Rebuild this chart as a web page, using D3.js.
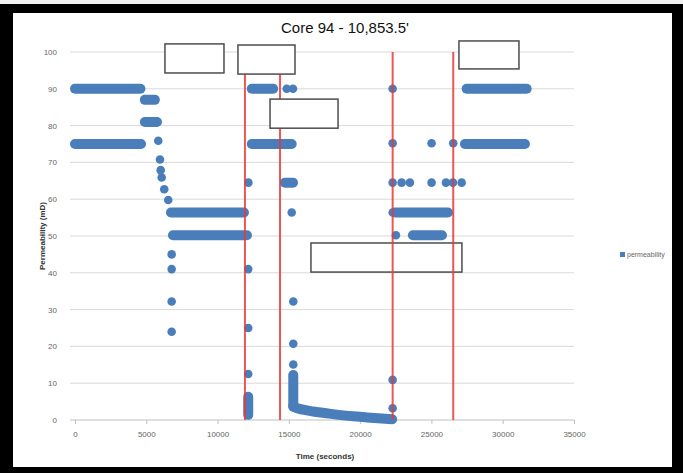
<!DOCTYPE html>
<html>
<head>
<meta charset="utf-8">
<script src="https://cdn.jsdelivr.net/npm/d3@7"></script>
<style>
  body { margin: 0; background: #fff; }
  svg { display: block; }
  text { font-family: "Liberation Sans Narrow", "Liberation Sans", Arial, sans-serif; }
</style>
</head>
<body>
<svg id="chart"></svg>
<script>
const TITLE = "Core 94 - 10,853.5'";
const X_LABEL = "Time (seconds)";
const Y_LABEL = "Permeability (mD)";
const SERIES_NAME = "permeability";

const xTicks = [0, 5000, 10000, 15000, 20000, 25000, 30000, 35000];
const yTicks = [0, 10, 20, 30, 40, 50, 60, 70, 80, 90, 100];

// dense runs of samples: [t0, v0, t1, v1]
const runs = [
    [0, 90, 4590, 90],
    [0, 75, 4630, 75],
    [4900, 87, 5600, 87],
    [4900, 81, 5750, 81],
    [6730, 56.4, 11850, 56.4],
    [6870, 50.2, 12060, 50.2],
    [12150, 6.3, 12150, 1.4],
    [12400, 90, 13900, 90],
    [12400, 75, 15200, 75],
    [14730, 64.5, 15290, 64.5],
    [15310, 12.2, 15310, 3.6],
    [22440, 56.4, 26160, 56.4],
    [23700, 50.2, 25740, 50.2],
    [27350, 75, 31560, 75],
    [27470, 90, 31680, 90]
];

// isolated samples: [t, v]
const points = [
    [5840, 75.9], [5960, 70.8], [6010, 67.9], [6080, 65.9], [6260, 62.7],
    [6540, 59.8],
    [6780, 45], [6780, 41], [6780, 32.2], [6780, 24],
    [12160, 64.5], [12150, 41], [12150, 25], [12150, 12.5],
    [14850, 90], [15290, 90], [15200, 56.4],
    [15310, 32.2], [15310, 20.7], [15310, 15.1],
    [22280, 90], [22280, 75.2], [22280, 10.9], [22280, 3.2],
    [22280, 64.5], [22910, 64.5], [23490, 64.5],
    [22280, 56.4], [22510, 50.2],
    [25010, 75.2], [25010, 64.5],
    [26020, 64.5], [26510, 64.5], [27120, 64.5],
    [26530, 75.2]
];

// slow decay after 15300 s: [t, v]
const decay = [
    [15310, 3.8], [15400, 3.5], [16000, 2.8], [16700, 2.3], [17500, 1.9],
    [18500, 1.4], [19500, 1.0], [20500, 0.7], [21500, 0.4], [22250, 0.2]
];

// vertical red markers (seconds)
const redLines = [11920, 14380, 22280, 26530];

// blank annotation boxes in data units: [t0, t1, vTop, vBottom]
const boxesOver = [
    [6310, 10450, 102.2, 94.3],
    [11430, 15430, 101.9, 94.0],
    [13680, 18450, 87.2, 79.3],
    [26930, 31140, 103.0, 95.4]
];
const boxesUnder = [
    [16550, 27140, 48.1, 40.2]
];

const W = 683, H = 473;
const BLUE = "#4a7ebb";

const svg = d3.select("#chart").attr("width", W).attr("height", H);

// frame
svg.append("rect").attr("width", W).attr("height", H).attr("fill", "#000");
svg.append("rect").attr("width", W).attr("height", 4).attr("fill", "#f2f2f2");
svg.append("rect").attr("x", 13).attr("y", 13).attr("width", 659).attr("height", 454).attr("fill", "#fff");

const x = d3.scaleLinear().domain([0, 35000]).range([75, 574]);
const y = d3.scaleLinear().domain([0, 100]).range([420, 52]);

// gridlines
svg.append("g")
    .selectAll("line")
    .data(yTicks)
    .enter()
    .append("line")
    .attr("x1", x(0) - 5)
    .attr("x2", x(35000))
    .attr("y1", d => y(d))
    .attr("y2", d => y(d))
    .attr("stroke", d => d === 0 ? "#bfbfbf" : "#d9d9d9")
    .attr("stroke-width", 1);

// x axis
const xAxis = svg.append("g")
    .attr("transform", `translate(0, ${y(0)})`)
    .call(d3.axisBottom(x).tickValues(xTicks).tickSize(4).tickSizeOuter(0).tickFormat(d3.format("d")));
xAxis.select(".domain").remove();
xAxis.selectAll("line").attr("stroke", "#bfbfbf");
xAxis.selectAll("text").attr("fill", "#666").attr("font-size", 8).attr("dy", "1.2em");

// y axis labels
const yAxis = svg.append("g")
    .attr("transform", `translate(${x(0)}, 0)`)
    .call(d3.axisLeft(y).tickValues(yTicks).tickSize(0).tickPadding(18));
yAxis.select(".domain").remove();
yAxis.selectAll("text").attr("fill", "#666").attr("font-size", 8);

// data
const dataG = svg.append("g");
dataG.selectAll("line.run")
    .data(runs)
    .enter()
    .append("line")
    .attr("class", "run")
    .attr("x1", d => x(d[0]))
    .attr("y1", d => y(d[1]))
    .attr("x2", d => x(d[2]))
    .attr("y2", d => y(d[3]))
    .attr("stroke", BLUE)
    .attr("stroke-width", 10)
    .attr("stroke-linecap", "round");

dataG.append("path")
    .datum(decay)
    .attr("d", d3.line().x(d => x(d[0])).y(d => y(d[1])).curve(d3.curveMonotoneX))
    .attr("fill", "none")
    .attr("stroke", BLUE)
    .attr("stroke-width", 10)
    .attr("stroke-linecap", "round")
    .attr("stroke-linejoin", "round");

dataG.selectAll("circle")
    .data(points)
    .enter()
    .append("circle")
    .attr("cx", d => x(d[0]))
    .attr("cy", d => y(d[1]))
    .attr("r", 4.3)
    .attr("fill", BLUE);

const drawBoxes = (data) => {
    svg.append("g")
        .selectAll("rect")
        .data(data)
        .enter()
        .append("rect")
        .attr("x", d => x(d[0]))
        .attr("y", d => y(d[2]))
        .attr("width", d => x(d[1]) - x(d[0]))
        .attr("height", d => y(d[3]) - y(d[2]))
        .attr("fill", "#fff")
        .attr("stroke", "#4d4d4d")
        .attr("stroke-width", 1.5);
};

drawBoxes(boxesUnder);

// red markers
svg.append("g")
    .selectAll("line")
    .data(redLines)
    .enter()
    .append("line")
    .attr("x1", d => x(d))
    .attr("x2", d => x(d))
    .attr("y1", y(100))
    .attr("y2", y(0))
    .attr("stroke", "#e8383b")
    .attr("stroke-opacity", 0.85)
    .attr("stroke-width", 2);

drawBoxes(boxesOver);

// title
svg.append("text")
    .attr("x", 345)
    .attr("y", 33)
    .attr("text-anchor", "middle")
    .attr("font-size", 15)
    .attr("fill", "#111")
    .text(TITLE);

// axis titles
svg.append("text")
    .attr("x", 325)
    .attr("y", 459)
    .attr("text-anchor", "middle")
    .attr("font-size", 8)
    .attr("font-weight", "bold")
    .attr("fill", "#333")
    .text(X_LABEL);

svg.append("text")
    .attr("transform", `translate(45, 236) rotate(-90)`)
    .attr("text-anchor", "middle")
    .attr("font-size", 8)
    .attr("font-weight", "bold")
    .attr("fill", "#333")
    .text(Y_LABEL);

// legend
svg.append("rect")
    .attr("x", 620)
    .attr("y", 252)
    .attr("width", 5)
    .attr("height", 5)
    .attr("fill", BLUE);
svg.append("text")
    .attr("x", 627)
    .attr("y", 257)
    .attr("font-size", 7)
    .attr("fill", "#666")
    .text(SERIES_NAME);
</script>
</body>
</html>
